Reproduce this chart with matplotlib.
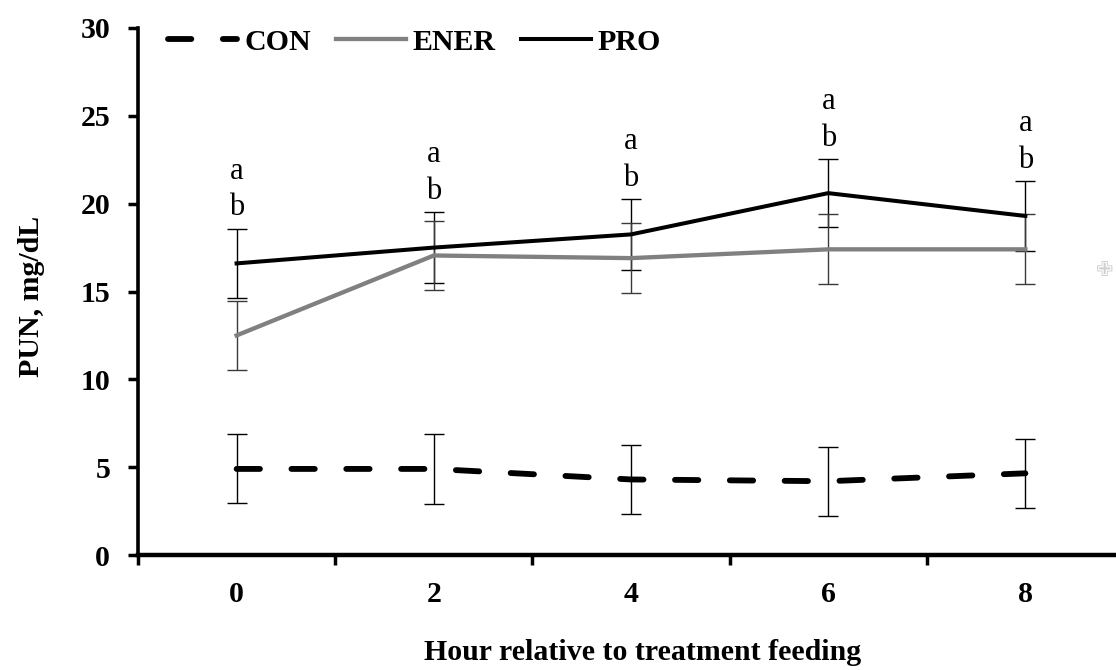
import numpy as np
import matplotlib
matplotlib.use("Agg")
import matplotlib.pyplot as plt

# ---- data ----
hours = [0, 2, 4, 6, 8]
hour_labels = ["0", "2", "4", "6", "8"]

con = [4.9, 4.9, 4.3, 4.2, 4.65]
con_se = [1.96, 1.97, 1.97, 1.97, 1.97]
ener = [12.5, 17.05, 16.9, 17.4, 17.4]
ener_se = [1.95, 1.98, 2.0, 2.0, 2.0]
pro = [16.6, 17.5, 18.25, 20.6, 19.3]
pro_se = [1.98, 2.03, 2.0, 1.93, 2.0]

letters_top = ["a", "a", "a", "a", "a"]
letters_bottom = ["b", "b", "b", "b", "b"]

plt.rcParams['font.family'] = ['Liberation Serif', 'DejaVu Serif']
FS = 21.5

fig = plt.figure(figsize=(11.16, 6.70), dpi=100)
W, H = 1116, 670
ax = fig.add_axes([138 / W, 1 - 555 / H, 986 / W, 527 / H])

# error bars first, lines on top
ax.errorbar(hours, con, yerr=con_se, fmt='none', ecolor='black', elinewidth=1.0, capsize=7, capthick=1.0, zorder=2)
ax.errorbar(hours, pro, yerr=pro_se, fmt='none', ecolor='black', elinewidth=1.0, capsize=7, capthick=1.0, zorder=2)
ax.errorbar(hours, ener, yerr=ener_se, fmt='none', ecolor='#3a3a3a', elinewidth=1.0, capsize=7, capthick=1.0, zorder=2)

con_line, = ax.plot(hours, con, color='black', lw=4.2, dashes=(4.0, 5.4),
                    dash_capstyle='round', solid_capstyle='round', label='CON', zorder=3)
ener_line, = ax.plot(hours, ener, color='#808080', lw=3.1, label='ENER', zorder=3)
pro_line, = ax.plot(hours, pro, color='black', lw=2.9, label='PRO', zorder=4)

# significance letters above the PRO error bars
for x, m, s, t, b in zip(hours, pro, pro_se, letters_top, letters_bottom):
    ax.annotate(b, (x, m + s), xytext=(0, 9.5), textcoords='offset points',
                ha='center', va='baseline', fontsize=22)
    ax.annotate(t, (x, m + s), xytext=(0, 36), textcoords='offset points',
                ha='center', va='baseline', fontsize=22)

# axes
ax.set_ylim(0, 30)
ax.set_xlim(-1, 9)
ax.set_yticks([0, 5, 10, 15, 20, 25, 30])
ax.set_xticks(hours)
ax.set_xticklabels(hour_labels)
ax.set_xticks([-1, 1, 3, 5, 7, 9], minor=True)
ax.tick_params(axis='x', which='major', length=0, pad=19, labelsize=FS)
ax.tick_params(axis='x', which='minor', length=7, width=2.5, direction='out')
ax.tick_params(axis='y', length=7, width=2.5, direction='out', pad=13, labelsize=FS)
for lab in ax.get_xticklabels() + ax.get_yticklabels():
    lab.set_fontweight('bold')

for side in ['top', 'right']:
    ax.spines[side].set_visible(False)
ax.spines['left'].set_linewidth(2.6)
ax.spines['bottom'].set_linewidth(3.2)

ax.set_xlabel("Hour relative to treatment feeding", fontsize=FS, fontweight='bold')
ax.xaxis.set_label_coords(0.512, -0.16)
ax.set_ylabel("PUN, mg/dL", fontsize=FS, fontweight='bold')
ax.yaxis.set_label_coords(-0.094, 0.49)

ax.legend(handles=[con_line, ener_line, pro_line], loc='center left',
          bbox_to_anchor=(0.03, 0.973), ncol=3, frameon=False,
          prop={'weight': 'bold', 'size': FS}, handlelength=2.34,
          handletextpad=0.22, columnspacing=0.85, borderpad=0, borderaxespad=0)

# faint icon at the right edge
fig.text(1105 / W, 1 - 270 / H, '\u2719', color='#cfcfcf', fontsize=15,
         family='DejaVu Sans', ha='center', va='center')

fig.savefig('out.png', dpi=100)
